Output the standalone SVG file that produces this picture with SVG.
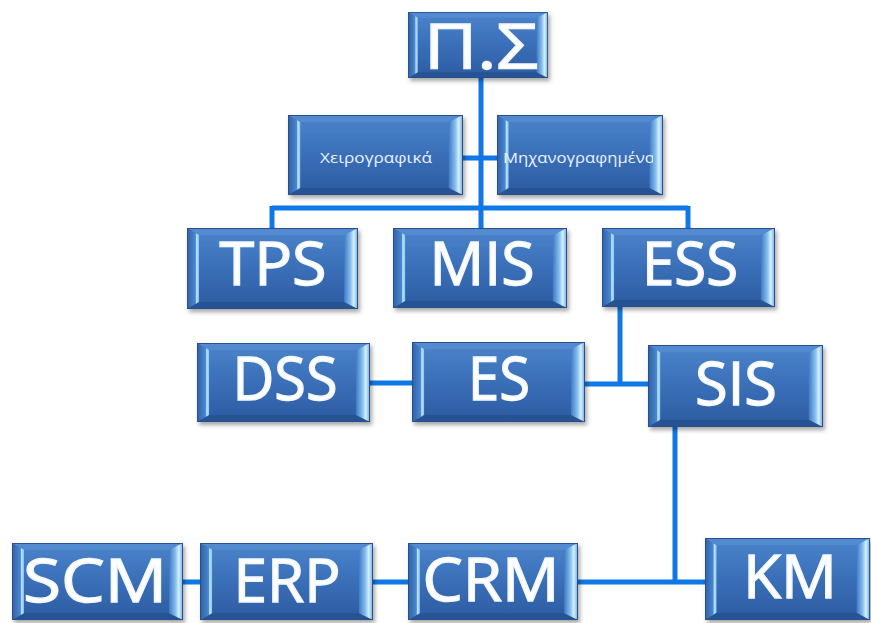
<svg xmlns="http://www.w3.org/2000/svg" xmlns:xlink="http://www.w3.org/1999/xlink" width="871" height="623" viewBox="0 0 871 623">
<defs>
  <linearGradient id="body" x1="0" y1="0" x2="0" y2="1">
    <stop offset="0" stop-color="#4b84cc"/>
    <stop offset="0.5" stop-color="#3a6fb8"/>
    <stop offset="1" stop-color="#2c5ba0"/>
  </linearGradient>
  <linearGradient id="lbev" x1="0" y1="0" x2="1" y2="0">
    <stop offset="0" stop-color="#2f60a6"/>
    <stop offset="0.7" stop-color="#4a86cf"/>
    <stop offset="0.8" stop-color="#b4e2fc"/>
    <stop offset="1" stop-color="#8cc6f2"/>
  </linearGradient>
  <linearGradient id="rbev" x1="0" y1="0" x2="1" y2="0">
    <stop offset="0" stop-color="#3f7bc6"/>
    <stop offset="0.45" stop-color="#86bdec"/>
    <stop offset="0.7" stop-color="#d2f0fd"/>
    <stop offset="1" stop-color="#6fa8e0"/>
  </linearGradient>
  <filter id="shadow" x="-10%" y="-10%" width="125%" height="130%">
    <feDropShadow dx="2" dy="3" stdDeviation="2" flood-color="#000" flood-opacity="0.35"/>
  </filter>
  <symbol id="box" viewBox="0 0 172 80" preserveAspectRatio="none">
    <rect x="0" y="0" width="172" height="80" fill="url(#body)"/>
    <polygon points="0,0 172,0 158,7 12,7" fill="#5a92d6" opacity="0.55"/>
    <polygon points="0,80 172,80 158,73 12,73" fill="#1f4783" opacity="0.5"/>
    <polygon points="0,0 12,7 12,73 0,80" fill="url(#lbev)"/>
    <polygon points="172,0 158,7 158,73 172,80" fill="url(#rbev)"/>
    <rect x="0.5" y="0.5" width="171" height="79" fill="none" stroke="#2a4f8c" stroke-width="1"/>
  </symbol>
  <clipPath id="mechClip">
    <rect x="497" y="115" width="156" height="80"/>
  </clipPath>
  <style>
    .bx { filter: url(#shadow); }
    .big { font-family: "Open Sans", "Liberation Sans", sans-serif; font-size: 60px; font-weight: 400; fill: #ffffff; stroke: #f2f8ff; stroke-width: 1.4px; text-anchor: middle; }
    .ps { font-size: 62px; }
    .small { font-family: "Open Sans", "Liberation Sans", sans-serif; font-size: 15px; fill: #e8f3ff; }
    .conn { stroke: #0f78e6; stroke-width: 5; fill: none; stroke-linecap: butt; }
  </style>
</defs>
<rect width="871" height="623" fill="#ffffff"/>

<g id="connectors">
  <path class="conn" d="M481 78 V228"/>
  <path class="conn" d="M272 208 H688"/>
  <path class="conn" d="M272 206 V228"/>
  <path class="conn" d="M688 206 V228"/>
  <path class="conn" d="M463 158 H497"/>
  <path class="conn" d="M370 383 H412"/>
  <path class="conn" d="M620 307 V384"/>
  <path class="conn" d="M585 384 H648"/>
  <path class="conn" d="M675 427 V582"/>
  <path class="conn" d="M578 582 H705"/>
  <path class="conn" d="M183 582 H200"/>
  <path class="conn" d="M373 582 H408"/>
</g>

<g id="node-ps">
  <use class="bx" href="#box" x="408" y="12" width="140" height="66"/>
  <text class="big ps" x="481" y="69" textLength="114" lengthAdjust="spacingAndGlyphs">Π.Σ</text>
</g>
<g id="node-xeirografika">
  <use class="bx" href="#box" x="288" y="115" width="175" height="80"/>
  <text class="small" x="320" y="163" textLength="112" lengthAdjust="spacingAndGlyphs">Χειρογραφικά</text>
</g>
<g id="node-michanografimena">
  <use class="bx" href="#box" x="497" y="115" width="166" height="80"/>
  <text class="small" x="503" y="163" textLength="152" lengthAdjust="spacingAndGlyphs" clip-path="url(#mechClip)">Μηχανογραφημένα</text>
</g>
<g id="node-tps">
  <use class="bx" href="#box" x="187" y="228" width="171" height="81"/>
  <text class="big" x="273" y="285" textLength="107" lengthAdjust="spacingAndGlyphs">TPS</text>
</g>
<g id="node-mis">
  <use class="bx" href="#box" x="393" y="228" width="174" height="80"/>
  <text class="big" x="482" y="285" textLength="105" lengthAdjust="spacingAndGlyphs">MIS</text>
</g>
<g id="node-ess">
  <use class="bx" href="#box" x="602" y="228" width="173" height="79"/>
  <text class="big" x="690" y="285" textLength="96" lengthAdjust="spacingAndGlyphs">ESS</text>
</g>
<g id="node-dss">
  <use class="bx" href="#box" x="197" y="343" width="173" height="79"/>
  <text class="big" x="285" y="400" textLength="105" lengthAdjust="spacingAndGlyphs">DSS</text>
</g>
<g id="node-es">
  <use class="bx" href="#box" x="412" y="342" width="173" height="80"/>
  <text class="big" x="499" y="400" textLength="62" lengthAdjust="spacingAndGlyphs">ES</text>
</g>
<g id="node-sis">
  <use class="bx" href="#box" x="648" y="345" width="175" height="82"/>
  <text class="big" x="736" y="405" textLength="82" lengthAdjust="spacingAndGlyphs">SIS</text>
</g>
<g id="node-scm">
  <use class="bx" href="#box" x="12" y="543" width="171" height="77"/>
  <text class="big" x="95" y="602" textLength="144" lengthAdjust="spacingAndGlyphs">SCM</text>
</g>
<g id="node-erp">
  <use class="bx" href="#box" x="200" y="543" width="173" height="77"/>
  <text class="big" x="287" y="602" textLength="107" lengthAdjust="spacingAndGlyphs">ERP</text>
</g>
<g id="node-crm">
  <use class="bx" href="#box" x="408" y="543" width="170" height="77"/>
  <text class="big" x="491" y="601" textLength="137" lengthAdjust="spacingAndGlyphs">CRM</text>
</g>
<g id="node-km">
  <use class="bx" href="#box" x="705" y="538" width="165" height="82"/>
  <text class="big" x="790" y="598" textLength="94" lengthAdjust="spacingAndGlyphs">KM</text>
</g>
</svg>
